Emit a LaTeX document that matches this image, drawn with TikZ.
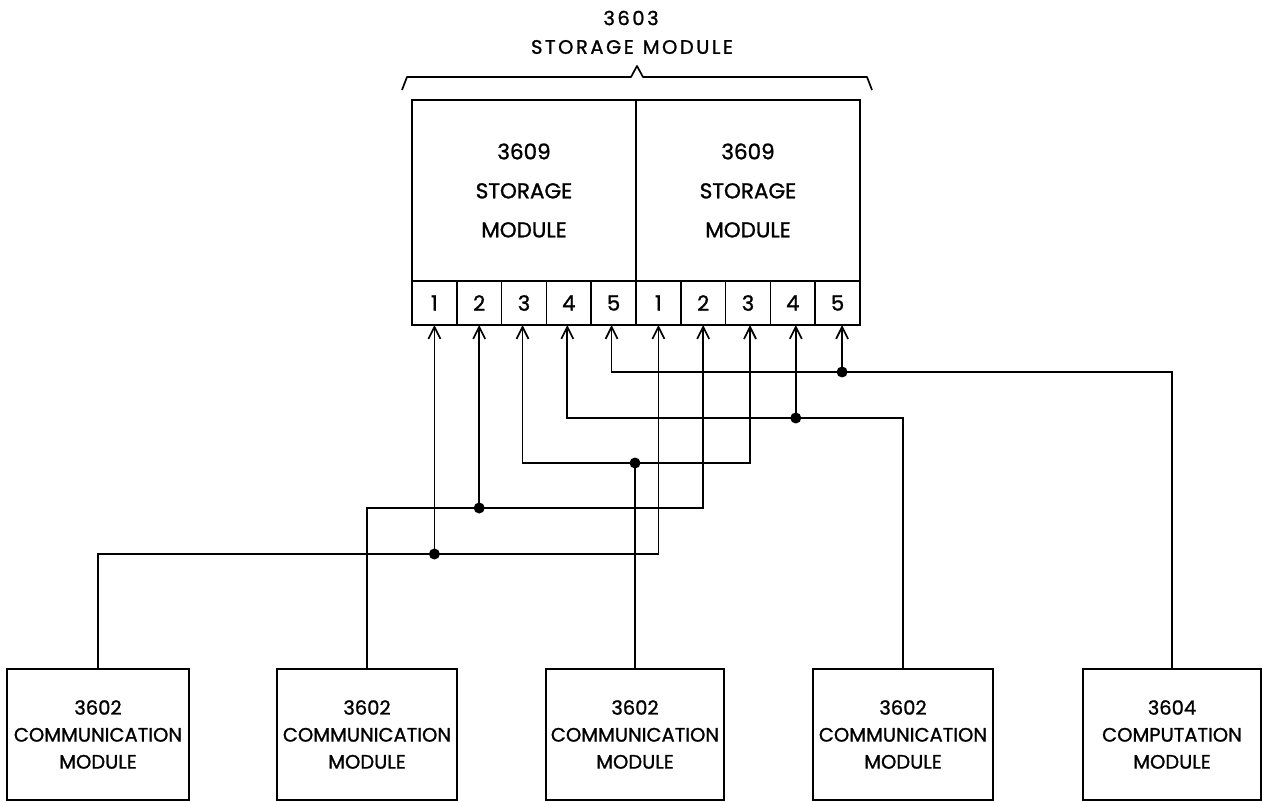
\documentclass[tikz,border=0pt]{standalone}
\usepackage{fontspec}
\setmainfont{Poppins}[FakeBold=1.2]
\newfontfamily\titlefont{Poppins}[FakeBold=1.2,LetterSpace=13]
\usetikzlibrary{arrows.meta,calc}
\tikzset{
  conn/.style={line width=1.7pt,-{Straight Barb[length=12pt,width=12pt,line width=1.7pt]}},
  conn2/.style={line width=1.7pt,{Straight Barb[length=12pt,width=12pt,line width=1.7pt]}-{Straight Barb[length=12pt,width=12pt,line width=1.7pt]}},
  plain/.style={line width=1.7pt},
  stor/.style={draw,line width=1.7pt,minimum width=224pt,minimum height=181pt,inner sep=0pt,outer sep=0pt,align=center,font={\fontsize{21.5}{39}\selectfont}},
  port/.style={draw,line width=1.7pt,minimum width=44.8pt,minimum height=44pt,inner sep=0pt,outer sep=0pt,font={\fontsize{21}{22}\selectfont}},
  modbox/.style={draw,line width=1.7pt,minimum height=131pt,inner sep=0pt,outer sep=0pt,align=center,font={\fontsize{19.5}{27}\selectfont}},
  dot/.style={fill=black},
  ttl/.style={font={\titlefont\fontsize{19.5}{20}\selectfont},inner sep=0pt}
}
\begin{document}
\begin{tikzpicture}[x=1pt,y=-1pt]
\useasboundingbox (0,0) rectangle (1262,802);
% title and brace
\node[ttl] (t1) at (631,18) {3603};
\node[ttl] (t2) at (632,47) {STORAGE\hspace{9pt}MODULE};
\draw[plain,line join=round] (402,90) -- (407,77) -- (631,77) -- (637,66) -- (643,77) -- (867,77) -- (872,90);
% storage modules
\node[stor] (s1) at (524,190.5) {3609\\STORAGE\\MODULE};
\node[stor] (s2) at (748,190.5) {3609\\STORAGE\\MODULE};
% ports
\foreach \i in {1,...,5} {
  \node[port] (pL\i) at ({412+44.8*(\i-0.5)},303) {\i};
  \node[port] (pR\i) at ({636+44.8*(\i-0.5)},303) {\i};
}
% arrow end points
\coordinate (aL1) at (pL1.south);
\coordinate (aL2) at (pL2.south);
\coordinate (aL3) at ([xshift=-1.5pt]pL3.south);
\coordinate (aL4) at ([xshift=-1.5pt]pL4.south);
\coordinate (aL5) at ([xshift=-2pt]pL5.south);
\coordinate (aR1) at (pR1.south);
\coordinate (aR2) at (pR2.south);
\coordinate (aR3) at ([xshift=2pt]pR3.south);
\coordinate (aR4) at ([xshift=3pt]pR4.south);
\coordinate (aR5) at ([xshift=4.5pt]pR5.south);
% bottom modules
\node[modbox,minimum width=182pt] (c1) at (98,734.5) {3602\\COMMUNICATION\\MODULE};
\node[modbox,minimum width=180pt] (c2) at (367,734.5) {3602\\COMMUNICATION\\MODULE};
\node[modbox,minimum width=178pt] (c3) at (635,734.5) {3602\\COMMUNICATION\\MODULE};
\node[modbox,minimum width=180pt] (c4) at (903,734.5) {3602\\COMMUNICATION\\MODULE};
\node[modbox,minimum width=178pt] (c5) at (1172,734.5) {3604\\COMPUTATION\\MODULE};
% bus levels
\coordinate (h1) at (0,554);
\coordinate (h2) at (0,508);
\coordinate (h3) at (0,463);
\coordinate (h4) at (0,418);
\coordinate (h5) at (0,372);
% junctions
\coordinate (j1) at (aL1 |- h1);
\coordinate (j2) at (aL2 |- h2);
\coordinate (j3) at (c3.north |- h3);
\coordinate (j4) at (aR4 |- h4);
\coordinate (j5) at (aR5 |- h5);
% connectors
\draw[conn] (c1.north) |- (aR1 |- h1) -- (aR1);
\draw[conn] (j1) -- (aL1);
\draw[conn] (c2.north) |- (aR2 |- h2) -- (aR2);
\draw[conn] (j2) -- (aL2);
\draw[plain] (c3.north) -- (j3);
\draw[conn2] (aL3) |- (j3) -| (aR3);
\draw[conn] (c4.north) |- (aL4 |- h4) -- (aL4);
\draw[conn] (j4) -- (aR4);
\draw[conn] (c5.north) |- (aL5 |- h5) -- (aL5);
\draw[conn] (j5) -- (aR5);
\foreach \j in {j1,j2,j3,j4,j5} \fill[dot] (\j) circle (5.5pt);
\end{tikzpicture}
\end{document}
